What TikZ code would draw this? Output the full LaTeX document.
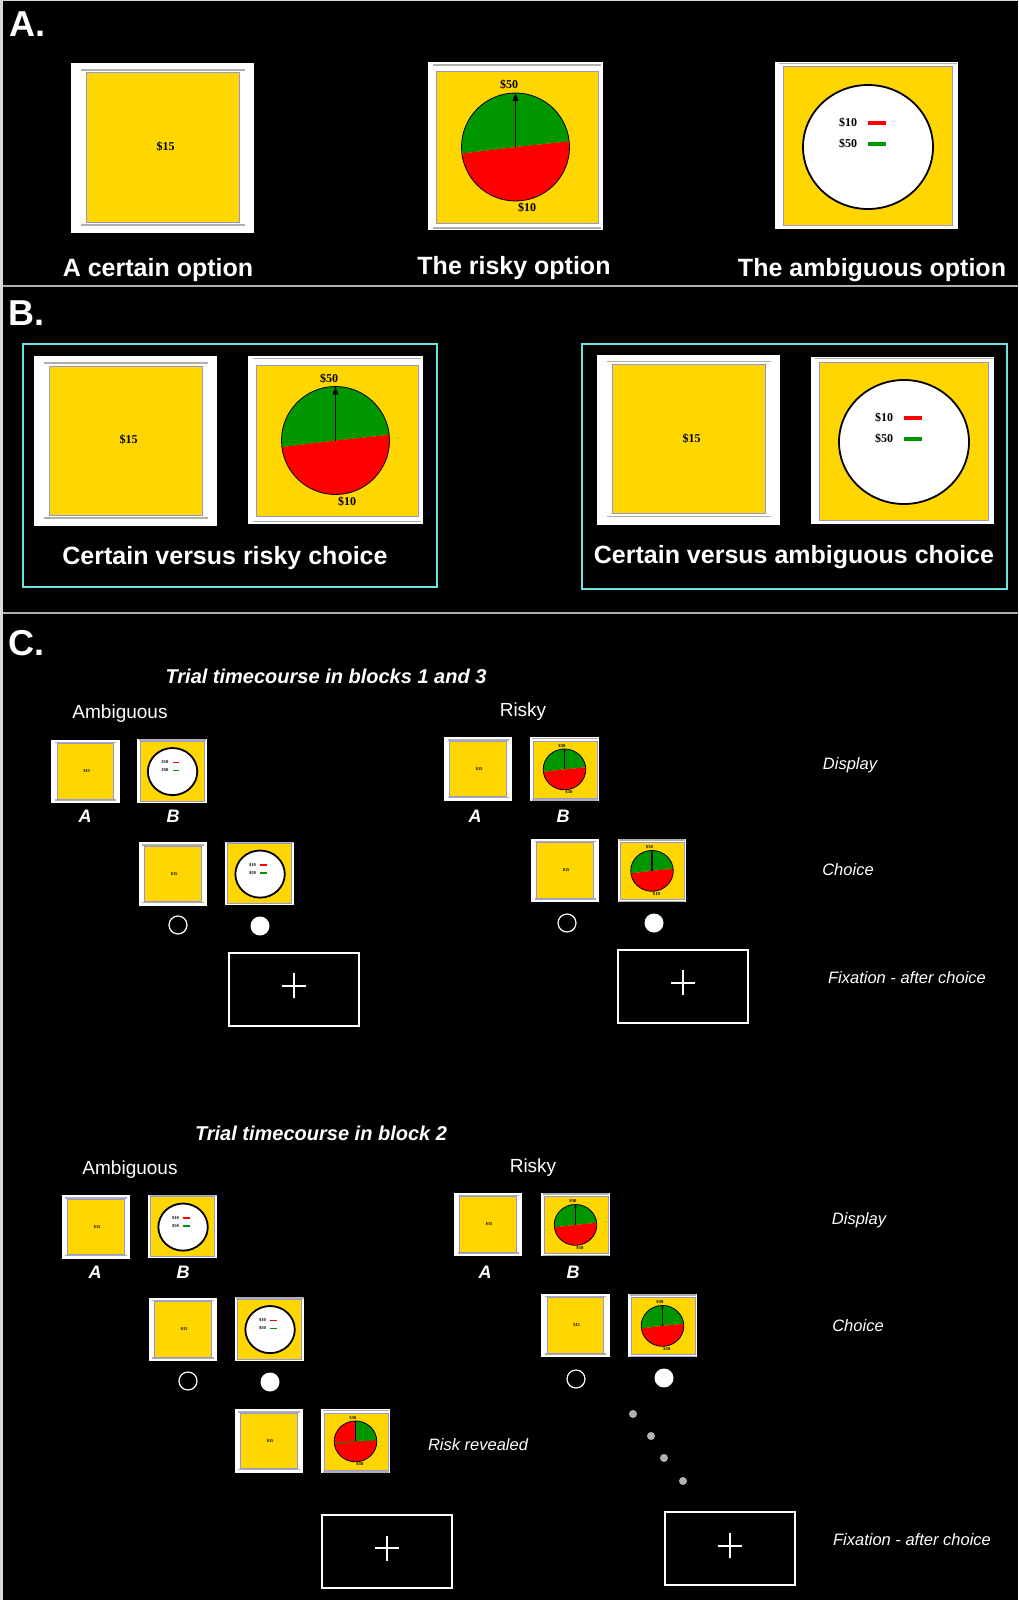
\documentclass[tikz,border=0pt]{standalone}
\usepackage{fontspec}
\setmainfont{Liberation Serif}
\setsansfont{Liberation Sans}
\usetikzlibrary{positioning}

\definecolor{gold}{RGB}{255,214,0}
\definecolor{pgreen}{RGB}{0,150,0}
\definecolor{pred}{RGB}{255,0,0}
\definecolor{rimblue}{RGB}{150,150,215}
\definecolor{rimgray}{RGB}{175,175,175}
\definecolor{framecyan}{RGB}{110,225,225}

\begin{document}
\begin{tikzpicture}[x=1pt, y=-1pt,
   panel/.style={text=white, inner sep=0, font=\sffamily\bfseries\fontsize{36}{40}\selectfont},
   heading/.style={text=white, inner sep=0, font=\sffamily\bfseries\fontsize{25}{30}\selectfont},
   title/.style={text=white, inner sep=0, font=\sffamily\bfseries\itshape\fontsize{20}{24}\selectfont},
   column/.style={text=white, inner sep=0, font=\sffamily\fontsize{19}{22}\selectfont},
   phase/.style={text=white, inner sep=0, font=\sffamily\itshape\fontsize{16.5}{20}\selectfont},
   option/.style={text=white, inner sep=0, font=\sffamily\bfseries\itshape\fontsize{18}{20}\selectfont},
   money/.style={text=black, inner sep=0, font=\bfseries\fontsize{12}{12}\selectfont},
   pair/.style={draw=framecyan, line width=2},
   fixbox/.style={draw=white, line width=2, minimum width=130, minimum height=73},
   cross/.style={white, line width=2},
   unpicked/.style={circle, draw=white, line width=1.2, minimum size=18},
   picked/.style={circle, fill=white, minimum size=19},
   smallcert/.style={scale=0.372, transform shape},
   smallrisk/.style={xscale=0.394, yscale=0.378, transform shape},
   smallamb/.style={scale=0.38, transform shape},
   certcard/.pic={
      \fill[white] (-91.5,-85) rectangle (91.5,85);
      \draw[rimgray, line width=1.5] (-82,-78) -- (82,-78) (-82,77) -- (82,77);
      \filldraw[fill=gold, draw=rimblue, line width=1] (-76.5,-75) rectangle (76.5,74);
      \node[money] (-val) at (3,-1) {\$15};
   },
   riskcard/.pic={
      \fill[white] (-87.5,-84) rectangle (87.5,84);
      \draw[rimgray, line width=1.5] (-83,-81) -- (85,-81) (-83,82) -- (85,82);
      \filldraw[fill=gold, draw=rimblue, line width=1] (-79.5,-74) rectangle (82.5,77);
      \fill[pgreen] (0,1) -- ++(-6:54) arc[start angle=-6, end angle=-187, radius=54] -- cycle;
      \fill[pred] (0,1) -- ++(-187:54) arc[start angle=-187, end angle=-366, radius=54] -- cycle;
      \draw[line width=0.8] (0,1) circle[radius=54];
      \draw[line width=1.2] (0,1) -- (0,-46);
      \fill (0,-53) -- (-3,-45) -- (3,-45) -- cycle;
      \node[money] (-hi) at (-6.5,-61) {\$50};
      \node[money] (-lo) at (11.5,62) {\$10};
   },
   revcard/.pic={
      \fill[white] (-87.5,-84) rectangle (87.5,84);
      \draw[rimgray, line width=1.5] (-83,-81) -- (85,-81) (-83,82) -- (85,82);
      \filldraw[fill=gold, draw=rimblue, line width=1] (-79.5,-74) rectangle (82.5,77);
      \fill[pred] (0,1) circle[radius=54];
      \fill[pgreen] (0,1) -- ++(-3:54) arc[start angle=-3, end angle=-90, radius=54] -- cycle;
      \draw[pgreen, line width=0.8] (0,1) -- ++(-185:54);
      \draw[line width=0.8] (0,1) circle[radius=54];
      \draw[line width=1] (0,1) -- (0,-53);
      \node[money] (-hi) at (-6.5,-61) {\$50};
      \node[money] (-lo) at (11.5,62) {\$10};
   },
   ambcard/.pic={
      \fill[white] (-91.5,-83.5) rectangle (91.5,83.5);
      \draw[rimgray, line width=1.5] (-88,-82) -- (90,-82);
      \filldraw[fill=gold, draw=rimblue, line width=1] (-83.5,-78.5) rectangle (85.5,79.5);
      \filldraw[fill=white, draw=black, line width=1.8] (1.5,1.5) ellipse[x radius=65, y radius=62];
      \node[money] (-lo) at (-18.5,-22.5) {\$10};
      \fill[pred] (1.5,-24.5) rectangle (19.5,-20.5);
      \node[money] (-hi) at (-18.5,-1.5) {\$50};
      \fill[pgreen] (1.5,-3.5) rectangle (19.5,0.5);
   }]

% background and rules
\fill[black] (0,0) rectangle (1018,1600);
\useasboundingbox (0,0) rectangle (1018,1600);
\draw[white!85!black, line width=3] (1.5,0) -- (1.5,1600);
\draw[white!85!black, line width=1] (0,0.5) -- (1018,0.5);
\draw[rimgray, line width=2] (3,286) -- (1018,286);
\draw[rimgray, line width=2] (3,613) -- (1018,613);

% A. the three options
\node[panel] (pa) at (27.5,24.5) {A.};
\pic (cert) at (162.5,148) {certcard};
\pic (risk) at (515.5,146) {riskcard};
\pic (amb) at (866.5,145.5) {ambcard};
\node[heading] (tcert) at (158,270) {A certain option};
\node[heading] (trisk) at (514,268) {The risky option};
\node[heading] (tamb) at (872,270) {The ambiguous option};

% B. the two choices
\node[panel] (pb) at (26.5,313.5) {B.};
\draw[pair] (23,344) rectangle (437,587);
\draw[pair] (582,344) rectangle (1007,589);
\pic (bcert1) at (125.5,441) {certcard};
\pic (brisk) at (335.5,439.5) {riskcard};
\pic (bcert2) at (688.5,439.5) {certcard};
\pic (bamb) at (902.5,440.5) {ambcard};
\node[heading] (tbrisk) at (225,558) {Certain versus risky choice};
\node[heading] (tbamb) at (794,557) {Certain versus ambiguous choice};

% C. blocks 1 and 3
\node[panel] (pc) at (27,643) {C.};
\node[title] (tb13) at (326,676) {Trial timecourse in blocks 1 and 3};
\node[column] (colamb) at (120,714) {Ambiguous};
\node[column] (colrisk) at (523,712) {Risky};

\pic[smallcert] (d1a) at (85.5,771.5) {certcard};
\pic[smallamb] (d1b) at (172,771) {ambcard};
\node[option] (ld1a) at (85,816) {A};
\node[option] (ld1b) at (173,816) {B};
\pic[smallcert] (c1a) at (173,874) {certcard};
\pic[smallamb] (c1b) at (259.5,873.5) {ambcard};
\node[unpicked] (o1a) at (178,925) {};
\node[picked] (o1b) at (260,926) {};

\pic[smallcert] (d2a) at (478,769) {certcard};
\pic[smallrisk] (d2b) at (564.5,769) {riskcard};
\node[option] (ld2a) at (475,816) {A};
\node[option] (ld2b) at (563,816) {B};
\pic[smallcert] (c2a) at (565,870.5) {certcard};
\pic[smallrisk] (c2b) at (652,870.5) {riskcard};
\node[unpicked] (o2a) at (567,923) {};
\node[picked] (o2b) at (654,923) {};

\node[fixbox] (fix1) at (294,989.5) {};
\node[fixbox] (fix2) at (682.5,986.5) {};
\draw[cross] ([shift={(-12,-4)}]fix1.center) -- ++(24,0) ([shift={(0,-16.5)}]fix1.center) -- ++(0,25);
\draw[cross] ([shift={(-12,-4)}]fix2.center) -- ++(24,0) ([shift={(0,-16.5)}]fix2.center) -- ++(0,25);

\node[phase] (ph1) at (850,765) {Display};
\node[phase] (ph2) at (848,870) {Choice};
\node[phase] (ph3) at (907,978) {Fixation - after choice};

% C. block 2
\node[title] (tb2) at (321,1133) {Trial timecourse in block 2};
\node[column] (colamb2) at (130,1170) {Ambiguous};
\node[column] (colrisk2) at (533,1168) {Risky};

\pic[smallcert] (d3a) at (96,1227) {certcard};
\pic[smallamb] (d3b) at (182.5,1226.5) {ambcard};
\node[option] (ld3a) at (95,1272) {A};
\node[option] (ld3b) at (183,1272) {B};
\pic[smallcert] (c3a) at (183,1329.5) {certcard};
\pic[smallamb] (c3b) at (269.5,1329) {ambcard};
\node[unpicked] (o3a) at (188,1381) {};
\node[picked] (o3b) at (270,1382) {};
\pic[smallcert] (r3a) at (269,1441) {certcard};
\pic[smallrisk] (r3b) at (355.5,1441) {revcard};
\node[phase] (ph4) at (478,1445) {Risk revealed};

\pic[smallcert] (d4a) at (488,1224.5) {certcard};
\pic[smallrisk] (d4b) at (575.5,1224.5) {riskcard};
\node[option] (ld4a) at (485,1272) {A};
\node[option] (ld4b) at (573,1272) {B};
\pic[smallcert] (c4a) at (575.5,1325.5) {certcard};
\pic[smallrisk] (c4b) at (662.5,1325.5) {riskcard};
\node[unpicked] (o4a) at (576,1379) {};
\node[picked] (o4b) at (664,1378) {};
\foreach \dx/\dy in {633/1414, 651/1436, 664/1458, 683/1481}
   \fill[white!70!black] (\dx,\dy) circle[radius=4];

\node[fixbox] (fix3) at (387,1551) {};
\node[fixbox] (fix4) at (729.5,1548.5) {};
\draw[cross] ([shift={(-12,-3)}]fix3.center) -- ++(24,0) ([shift={(0,-15.5)}]fix3.center) -- ++(0,25);
\draw[cross] ([shift={(-12,-3)}]fix4.center) -- ++(24,0) ([shift={(0,-15.5)}]fix4.center) -- ++(0,25);

\node[phase] (ph5) at (859,1220) {Display};
\node[phase] (ph6) at (858,1326) {Choice};
\node[phase] (ph7) at (912,1540) {Fixation - after choice};

\end{tikzpicture}
\end{document}
